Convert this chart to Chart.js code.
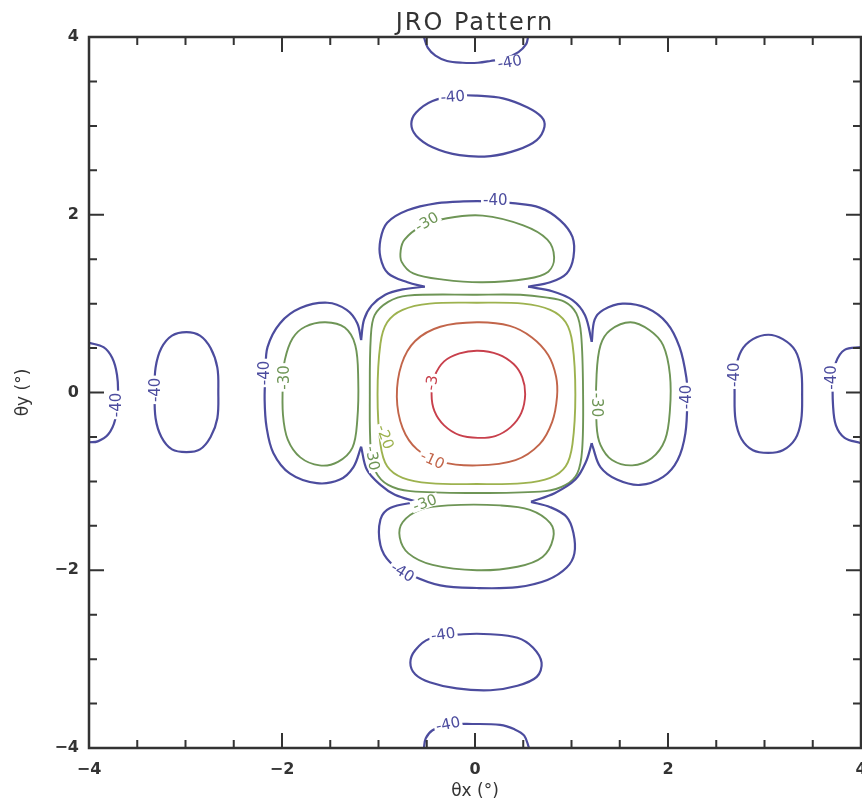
<!DOCTYPE html>
<html>

<head>
    <meta charset="utf-8">
    <title>JRO Pattern</title>
    <script src="https://cdn.jsdelivr.net/npm/chart.js@4.4.1/dist/chart.umd.min.js"></script>
    <style>
        html, body { margin: 0; padding: 0; background: #fff; }
        canvas { display: block; }
    </style>
</head>

<body>
    <canvas id="patternCanvas" width="862" height="805"></canvas>

    <script>
        // contour levels (dB) and axis ticks
        const levels = [-40, -30, -20, -10, -3]
        const tickValues = [-4, -2, 0, 2, 4]

        // -40 dB: grating-lobe rings along the axes
        const c40EdgeTop = [[-0.53, 4.0], [-0.49, 3.88], [-0.41, 3.79], [-0.29, 3.73], [-0.13, 3.71], [0.03, 3.71],
            [0.16, 3.73], [0.31, 3.76], [0.45, 3.83], [0.53, 3.92], [0.55, 4.0]]
        const c40EdgeBottom = [[-0.53, -4.0], [-0.51, -3.89], [-0.44, -3.80], [-0.29, -3.74], [-0.03, -3.73],
            [0.26, -3.74], [0.41, -3.79], [0.51, -3.86], [0.56, -4.0]]
        const c40EdgeLeft = [[-4.0, 0.56], [-3.85, 0.51], [-3.76, 0.39], [-3.71, 0.20], [-3.70, -0.03],
            [-3.73, -0.31], [-3.80, -0.47], [-3.91, -0.55], [-4.0, -0.56]]
        const c40EdgeRight = [[4.0, 0.51], [3.83, 0.48], [3.74, 0.34], [3.71, 0.14], [3.71, -0.14],
            [3.74, -0.37], [3.83, -0.51], [4.0, -0.57]]

        const c40RingN = [[-0.66, 3.02], [-0.61, 3.15], [-0.44, 3.28], [-0.19, 3.34], [0.02, 3.34], [0.29, 3.31],
            [0.54, 3.21], [0.69, 3.10], [0.72, 2.99], [0.64, 2.84], [0.44, 2.73], [0.16, 2.66], [-0.16, 2.67],
            [-0.44, 2.76], [-0.61, 2.89]]
        const c40RingS = [[-0.67, -3.04], [-0.62, -2.90], [-0.47, -2.77], [-0.12, -2.72], [0.16, -2.72],
            [0.44, -2.76], [0.60, -2.87], [0.69, -3.04], [0.64, -3.20], [0.44, -3.30], [0.16, -3.35],
            [-0.19, -3.33], [-0.47, -3.26], [-0.62, -3.17]]
        const c40RingW = [[-2.99, 0.68], [-2.85, 0.64], [-2.74, 0.50], [-2.67, 0.28], [-2.66, 0.01], [-2.67, -0.29],
            [-2.74, -0.50], [-2.85, -0.64], [-2.99, -0.67], [-3.14, -0.64], [-3.25, -0.50], [-3.31, -0.29],
            [-3.32, 0.01], [-3.31, 0.28], [-3.25, 0.50], [-3.14, 0.64]]
        const c40RingE = [[3.04, 0.65], [3.19, 0.60], [3.32, 0.47], [3.38, 0.25], [3.39, -0.02], [3.38, -0.31],
            [3.32, -0.52], [3.19, -0.65], [3.04, -0.68], [2.88, -0.65], [2.76, -0.52], [2.70, -0.31],
            [2.69, -0.02], [2.70, 0.25], [2.76, 0.47], [2.88, 0.60]]

        // -40 dB: four-lobed outline around the main beam (cusps between pieces)
        const c40LobeN = [[-0.52, 1.19], [-0.70, 1.24], [-0.90, 1.34], [-0.98, 1.52], [-0.98, 1.72], [-0.91, 1.91],
            [-0.70, 2.05], [-0.39, 2.13], [-0.12, 2.15], [0.16, 2.15], [0.39, 2.13], [0.67, 2.08], [0.88, 1.94],
            [1.01, 1.75], [1.02, 1.52], [0.95, 1.34], [0.78, 1.24], [0.55, 1.19]]
        const c40DiagNE = [[0.55, 1.19], [0.80, 1.14], [1.01, 1.04], [1.14, 0.87], [1.21, 0.57]]
        const c40LobeE = [[1.21, 0.57], [1.24, 0.82], [1.33, 0.93], [1.53, 1.00], [1.78, 0.95], [1.99, 0.78],
            [2.12, 0.51], [2.19, 0.17], [2.20, -0.05], [2.18, -0.46], [2.10, -0.76], [1.95, -0.95],
            [1.71, -1.04], [1.47, -0.98], [1.30, -0.84], [1.22, -0.61], [1.21, -0.57]]
        const c40DiagSE = [[1.21, -0.57], [1.15, -0.78], [1.04, -0.98], [0.83, -1.13], [0.58, -1.23]]
        const c40LobeS = [[0.58, -1.23], [0.78, -1.29], [0.95, -1.40], [1.02, -1.58], [1.03, -1.81], [0.95, -1.97],
            [0.75, -2.11], [0.44, -2.19], [0.02, -2.20], [-0.36, -2.17], [-0.67, -2.05], [-0.88, -1.91],
            [-0.98, -1.72], [-0.98, -1.43], [-0.88, -1.30], [-0.60, -1.23]]
        const c40DiagSW = [[-0.60, -1.23], [-0.83, -1.15], [-0.98, -1.04], [-1.12, -0.87], [-1.18, -0.61]]
        const c40LobeW = [[-1.18, -0.61], [-1.26, -0.84], [-1.40, -0.98], [-1.64, -1.02], [-1.92, -0.91],
            [-2.09, -0.68], [-2.16, -0.39], [-2.18, -0.08], [-2.17, 0.23], [-2.15, 0.51], [-2.02, 0.78],
            [-1.81, 0.95], [-1.53, 1.01], [-1.33, 0.93], [-1.22, 0.78], [-1.18, 0.59]]
        const c40DiagNW = [[-1.18, 0.59], [-1.15, 0.82], [-1.07, 0.98], [-0.93, 1.10], [-0.75, 1.16], [-0.52, 1.19]]

        // -30 dB: first sidelobes and main-beam outline
        const c30LobeN = [[-0.29, 1.96], [0.08, 1.99], [0.50, 1.88], [0.75, 1.72], [0.82, 1.52], [0.76, 1.36],
            [0.54, 1.28], [0.08, 1.24], [-0.33, 1.27], [-0.64, 1.34], [-0.76, 1.47], [-0.77, 1.60],
            [-0.73, 1.72], [-0.57, 1.86]]
        const c30LobeS = [[-0.28, -1.27], [0.26, -1.27], [0.57, -1.32], [0.78, -1.47], [0.81, -1.64],
            [0.70, -1.85], [0.44, -1.96], [0.02, -2.00], [-0.44, -1.94], [-0.69, -1.81], [-0.78, -1.63],
            [-0.75, -1.46], [-0.57, -1.32]]
        const c30LobeW = [[-1.55, 0.79], [-1.35, 0.73], [-1.24, 0.53], [-1.21, 0.14], [-1.22, -0.31],
            [-1.27, -0.62], [-1.42, -0.78], [-1.61, -0.82], [-1.81, -0.73], [-1.94, -0.53], [-1.99, -0.25],
            [-1.99, 0.14], [-1.97, 0.37], [-1.89, 0.61], [-1.76, 0.74]]
        const c30LobeE = [[1.61, 0.79], [1.81, 0.70], [1.95, 0.53], [2.02, 0.20], [2.02, -0.20], [1.97, -0.53],
            [1.83, -0.74], [1.63, -0.82], [1.42, -0.76], [1.30, -0.59], [1.26, -0.37], [1.26, 0.20],
            [1.30, 0.53], [1.40, 0.70]]
        const c30Main = [[0.02, 1.10], [0.47, 1.10], [0.73, 1.07], [0.93, 1.02], [1.05, 0.89], [1.10, 0.65],
            [1.12, -0.02], [1.11, -0.65], [1.06, -0.91], [0.94, -1.04], [0.73, -1.11], [0.02, -1.13],
            [-0.67, -1.11], [-0.90, -1.04], [-1.03, -0.89], [-1.08, -0.65], [-1.09, -0.02], [-1.08, 0.62],
            [-1.04, 0.87], [-0.90, 1.02], [-0.70, 1.09]]

        // -20, -10 and -3 dB: main beam
        const c20Main = [[0.02, 1.01], [0.50, 1.00], [0.78, 0.93], [0.94, 0.79], [1.01, 0.55], [1.04, -0.02],
            [1.01, -0.58], [0.94, -0.83], [0.78, -0.96], [0.50, -1.02], [0.02, -1.03], [-0.47, -1.02],
            [-0.75, -0.96], [-0.91, -0.83], [-0.98, -0.58], [-1.01, -0.02], [-0.98, 0.55], [-0.91, 0.79],
            [-0.75, 0.93], [-0.47, 1.00]]
        const c10Main = [[0.02, 0.79], [0.36, 0.75], [0.59, 0.62], [0.76, 0.42], [0.84, 0.18], [0.85, -0.05],
            [0.80, -0.33], [0.67, -0.58], [0.42, -0.76], [0.02, -0.82], [-0.35, -0.78], [-0.60, -0.64],
            [-0.75, -0.40], [-0.81, -0.05], [-0.76, 0.32], [-0.62, 0.58], [-0.36, 0.74]]
        const c3Main = [[0.03, 0.47], [0.24, 0.43], [0.40, 0.32], [0.49, 0.17], [0.52, -0.02], [0.48, -0.23],
            [0.37, -0.39], [0.21, -0.49], [0.03, -0.51], [-0.16, -0.48], [-0.32, -0.37], [-0.42, -0.21],
            [-0.45, -0.02], [-0.42, 0.18], [-0.32, 0.35], [-0.16, 0.44]]

        // inline contour labels: level, x, y, text angle (deg)
        const contourLabels = [
            [-40, 0.36, 3.72, -10], [-40, -0.23, 3.33, -4], [-40, 0.21, 2.16, 0], [-40, -0.75, -2.02, 32],
            [-40, -0.33, -2.72, -8], [-40, -0.28, -3.73, -12],
            [-40, -2.19, 0.22, -90], [-40, 2.19, -0.05, -90], [-40, -3.32, 0.03, -90], [-40, 2.69, 0.20, -90],
            [-40, -3.72, -0.14, -90], [-40, 3.69, 0.17, -90],
            [-30, -0.50, 1.92, -30], [-30, -0.52, -1.24, -20], [-30, -1.98, 0.17, -90], [-30, 1.26, -0.14, 90],
            [-30, -1.06, -0.74, 80], [-20, -0.93, -0.50, 70], [-10, -0.44, -0.76, 25], [-3, -0.45, 0.11, -80],
        ]

        const curves = [
            { level: -40, pts: c40EdgeTop }, { level: -40, pts: c40EdgeBottom },
            { level: -40, pts: c40EdgeLeft }, { level: -40, pts: c40EdgeRight },
            { level: -40, pts: c40RingN, closed: true }, { level: -40, pts: c40RingS, closed: true },
            { level: -40, pts: c40RingW, closed: true }, { level: -40, pts: c40RingE, closed: true },
            { level: -40, pts: c40LobeN }, { level: -40, pts: c40DiagNE },
            { level: -40, pts: c40LobeE }, { level: -40, pts: c40DiagSE },
            { level: -40, pts: c40LobeS }, { level: -40, pts: c40DiagSW },
            { level: -40, pts: c40LobeW }, { level: -40, pts: c40DiagNW },
            { level: -30, pts: c30LobeN, closed: true }, { level: -30, pts: c30LobeS, closed: true },
            { level: -30, pts: c30LobeW, closed: true }, { level: -30, pts: c30LobeE, closed: true },
            { level: -30, pts: c30Main, closed: true },
            { level: -20, pts: c20Main, closed: true },
            { level: -10, pts: c10Main, closed: true },
            { level: -3, pts: c3Main, closed: true },
        ]

        const levelColor = {
            '-40': '#4c4c9e',
            '-30': '#6e9556',
            '-20': '#9db24f',
            '-10': '#c2654a',
            '-3': '#c8404c',
        }
        const ink = '#333'

        // closed loops get one wrap-around point on each side so the spline
        // has neighbours everywhere; the two extra segments are hidden
        const datasets = curves.map(c => {
            const n = c.pts.length
            const pts = c.closed ? [c.pts[n - 1], ...c.pts, c.pts[0], c.pts[1]] : c.pts
            const last = pts.length - 2
            return {
                label: String(c.level),
                data: pts.map(([x, y]) => ({ x, y })),
                showLine: true,
                borderColor: levelColor[c.level],
                borderWidth: c.level === -40 ? 2.2 : 1.9,
                pointRadius: 0,
                tension: 0.35,
                fill: false,
                segment: c.closed ? {
                    borderColor: s => (s.p0DataIndex === 0 || s.p0DataIndex === last ? 'rgba(0,0,0,0)' : undefined),
                } : undefined,
            }
        })

        const fmt = v => (v < 0 ? '\u2212' + Math.abs(v) : String(v))

        // labels sit on a white patch so the line breaks under them
        const labelPlugin = {
            id: 'contourLabels',
            afterDatasetsDraw(chart) {
                const { ctx, scales: { x, y } } = chart
                ctx.save()
                ctx.font = '15px "DejaVu Sans"'
                ctx.textAlign = 'center'
                ctx.textBaseline = 'middle'
                contourLabels.forEach(([lvl, lx, ly, ang]) => {
                    const txt = String(lvl)
                    const w = ctx.measureText(txt).width
                    ctx.save()
                    ctx.translate(x.getPixelForValue(lx), y.getPixelForValue(ly))
                    ctx.rotate(ang * Math.PI / 180)
                    ctx.fillStyle = '#fff'
                    ctx.fillRect(-w / 2 - 2, -6, w + 4, 12)
                    ctx.fillStyle = levelColor[lvl]
                    ctx.fillText(txt, 0, 1)
                    ctx.restore()
                })
                ctx.restore()
            },
        }

        // box frame, inward ticks on all four sides, and the title
        const framePlugin = {
            id: 'frame',
            beforeDraw(chart) {
                const { ctx, width, height } = chart
                ctx.save()
                ctx.fillStyle = '#fff'
                ctx.fillRect(0, 0, width, height)
                ctx.restore()
            },
            afterDraw(chart) {
                const { ctx, chartArea: a, scales: { x, y } } = chart
                ctx.save()
                ctx.strokeStyle = ink
                ctx.lineWidth = 2.5
                ctx.strokeRect(a.left, a.top, a.right - a.left, a.bottom - a.top)
                ctx.lineWidth = 2
                ctx.beginPath()
                for (let v = -4; v <= 4; v += 0.5) {
                    const len = v % 2 === 0 ? 15 : 8
                    const px = x.getPixelForValue(v)
                    const py = y.getPixelForValue(v)
                    ctx.moveTo(px, a.bottom); ctx.lineTo(px, a.bottom - len)
                    ctx.moveTo(px, a.top); ctx.lineTo(px, a.top + len)
                    ctx.moveTo(a.left, py); ctx.lineTo(a.left + len, py)
                    ctx.moveTo(a.right, py); ctx.lineTo(a.right - len, py)
                }
                ctx.stroke()

                ctx.fillStyle = ink
                ctx.font = '24px "DejaVu Sans"'
                ctx.letterSpacing = '2px'
                ctx.textAlign = 'center'
                ctx.textBaseline = 'alphabetic'
                ctx.fillText('JRO Pattern', (a.left + a.right) / 2, 30)
                ctx.restore()
            },
        }

        const chart = new Chart(document.getElementById('patternCanvas'), {
            type: 'scatter',
            data: { datasets },
            options: {
                responsive: false,
                animation: false,
                layout: { padding: { top: 37, right: 1, left: 0, bottom: 0 } },
                plugins: { legend: { display: false }, tooltip: { enabled: false } },
                scales: {
                    x: {
                        type: 'linear', min: -4, max: 4,
                        afterBuildTicks: s => { s.ticks = tickValues.map(value => ({ value })) },
                        afterFit: s => { s.height = 57; s.paddingLeft = 0; s.paddingRight = 0 },
                        grid: { display: false, drawTicks: false },
                        border: { display: false },
                        ticks: {
                            callback: fmt, color: ink, padding: 12, maxRotation: 0,
                            font: { family: '"DejaVu Sans"', size: 16, weight: 'bold' },
                        },
                        title: {
                            display: true, text: '\u03b8x (\u00b0)', color: ink,
                            font: { family: '"DejaVu Sans"', size: 17 },
                            padding: { top: 0, bottom: 3 },
                        },
                    },
                    y: {
                        type: 'linear', min: -4, max: 4,
                        afterBuildTicks: s => { s.ticks = tickValues.map(value => ({ value })) },
                        afterFit: s => { s.width = 89; s.paddingTop = 0; s.paddingBottom = 0 },
                        grid: { display: false, drawTicks: false },
                        border: { display: false },
                        ticks: {
                            callback: fmt, color: ink, padding: 10,
                            font: { family: '"DejaVu Sans"', size: 16, weight: 'bold' },
                        },
                        title: {
                            display: true, text: '\u03b8y (\u00b0)', color: ink,
                            font: { family: '"DejaVu Sans"', size: 17 },
                            padding: { top: 13, bottom: 0 },
                        },
                    },
                },
            },
            plugins: [framePlugin, labelPlugin],
        })
    </script>
</body>

</html>
